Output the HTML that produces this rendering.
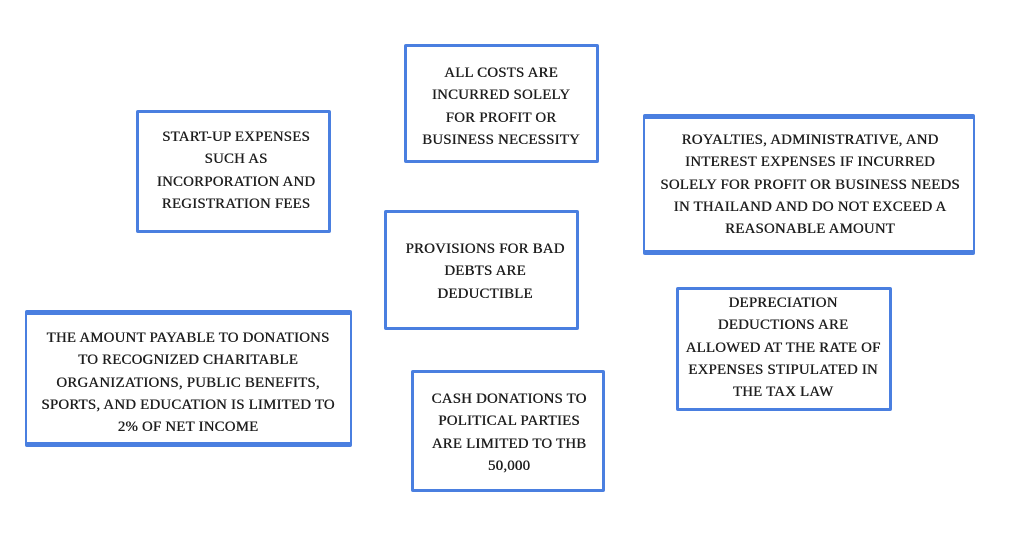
<!DOCTYPE html>
<html><head><meta charset="utf-8"><style>
body{margin:0;width:1024px;height:538px;background:#fff;position:relative;overflow:hidden;font-family:"Liberation Serif",serif;}
.b{position:absolute;border:3px solid #4a7fe0;box-sizing:border-box;border-radius:2px;}
.t{position:absolute;text-align:center;font-size:14.8px;line-height:22.3px;color:#1e1e1e;letter-spacing:0.25px;white-space:nowrap;transform:translateX(-50%);text-shadow:0.4px 0 0 #1e1e1e;}
.thick{border-top-width:5px;border-bottom-width:5px;border-left-width:2px;border-right-width:2px;}
</style></head><body>
<div class="b" style="left:404px;top:44px;width:195px;height:119px"></div>
<div class="t" style="left:501px;top:62px">ALL COSTS ARE<br>INCURRED SOLELY<br>FOR PROFIT OR<br>BUSINESS NECESSITY</div>

<div class="b" style="left:136px;top:110px;width:195px;height:123px"></div>
<div class="t" style="left:236px;top:126px">START-UP EXPENSES<br>SUCH AS<br>INCORPORATION AND<br>REGISTRATION FEES</div>

<div class="b thick" style="left:643px;top:114px;width:332px;height:141px"></div>
<div class="t" style="left:810px;top:129px">ROYALTIES, ADMINISTRATIVE, AND<br>INTEREST EXPENSES IF INCURRED<br>SOLELY FOR PROFIT OR BUSINESS NEEDS<br>IN THAILAND AND DO NOT EXCEED A<br>REASONABLE AMOUNT</div>

<div class="b" style="left:384px;top:210px;width:195px;height:120px"></div>
<div class="t" style="left:485px;top:238px">PROVISIONS FOR BAD<br>DEBTS ARE<br>DEDUCTIBLE</div>

<div class="b thick" style="left:25px;top:310px;width:327px;height:137px"></div>
<div class="t" style="left:188px;top:327px">THE AMOUNT PAYABLE TO DONATIONS<br>TO RECOGNIZED CHARITABLE<br>ORGANIZATIONS, PUBLIC BENEFITS,<br>SPORTS, AND EDUCATION IS LIMITED TO<br>2% OF NET INCOME</div>

<div class="b" style="left:676px;top:287px;width:216px;height:124px"></div>
<div class="t" style="left:783px;top:292px">DEPRECIATION<br>DEDUCTIONS ARE<br>ALLOWED AT THE RATE OF<br>EXPENSES STIPULATED IN<br>THE TAX LAW</div>

<div class="b" style="left:411px;top:370px;width:194px;height:122px"></div>
<div class="t" style="left:509px;top:388px">CASH DONATIONS TO<br>POLITICAL PARTIES<br>ARE LIMITED TO THB<br>50,000</div>
</body></html>
